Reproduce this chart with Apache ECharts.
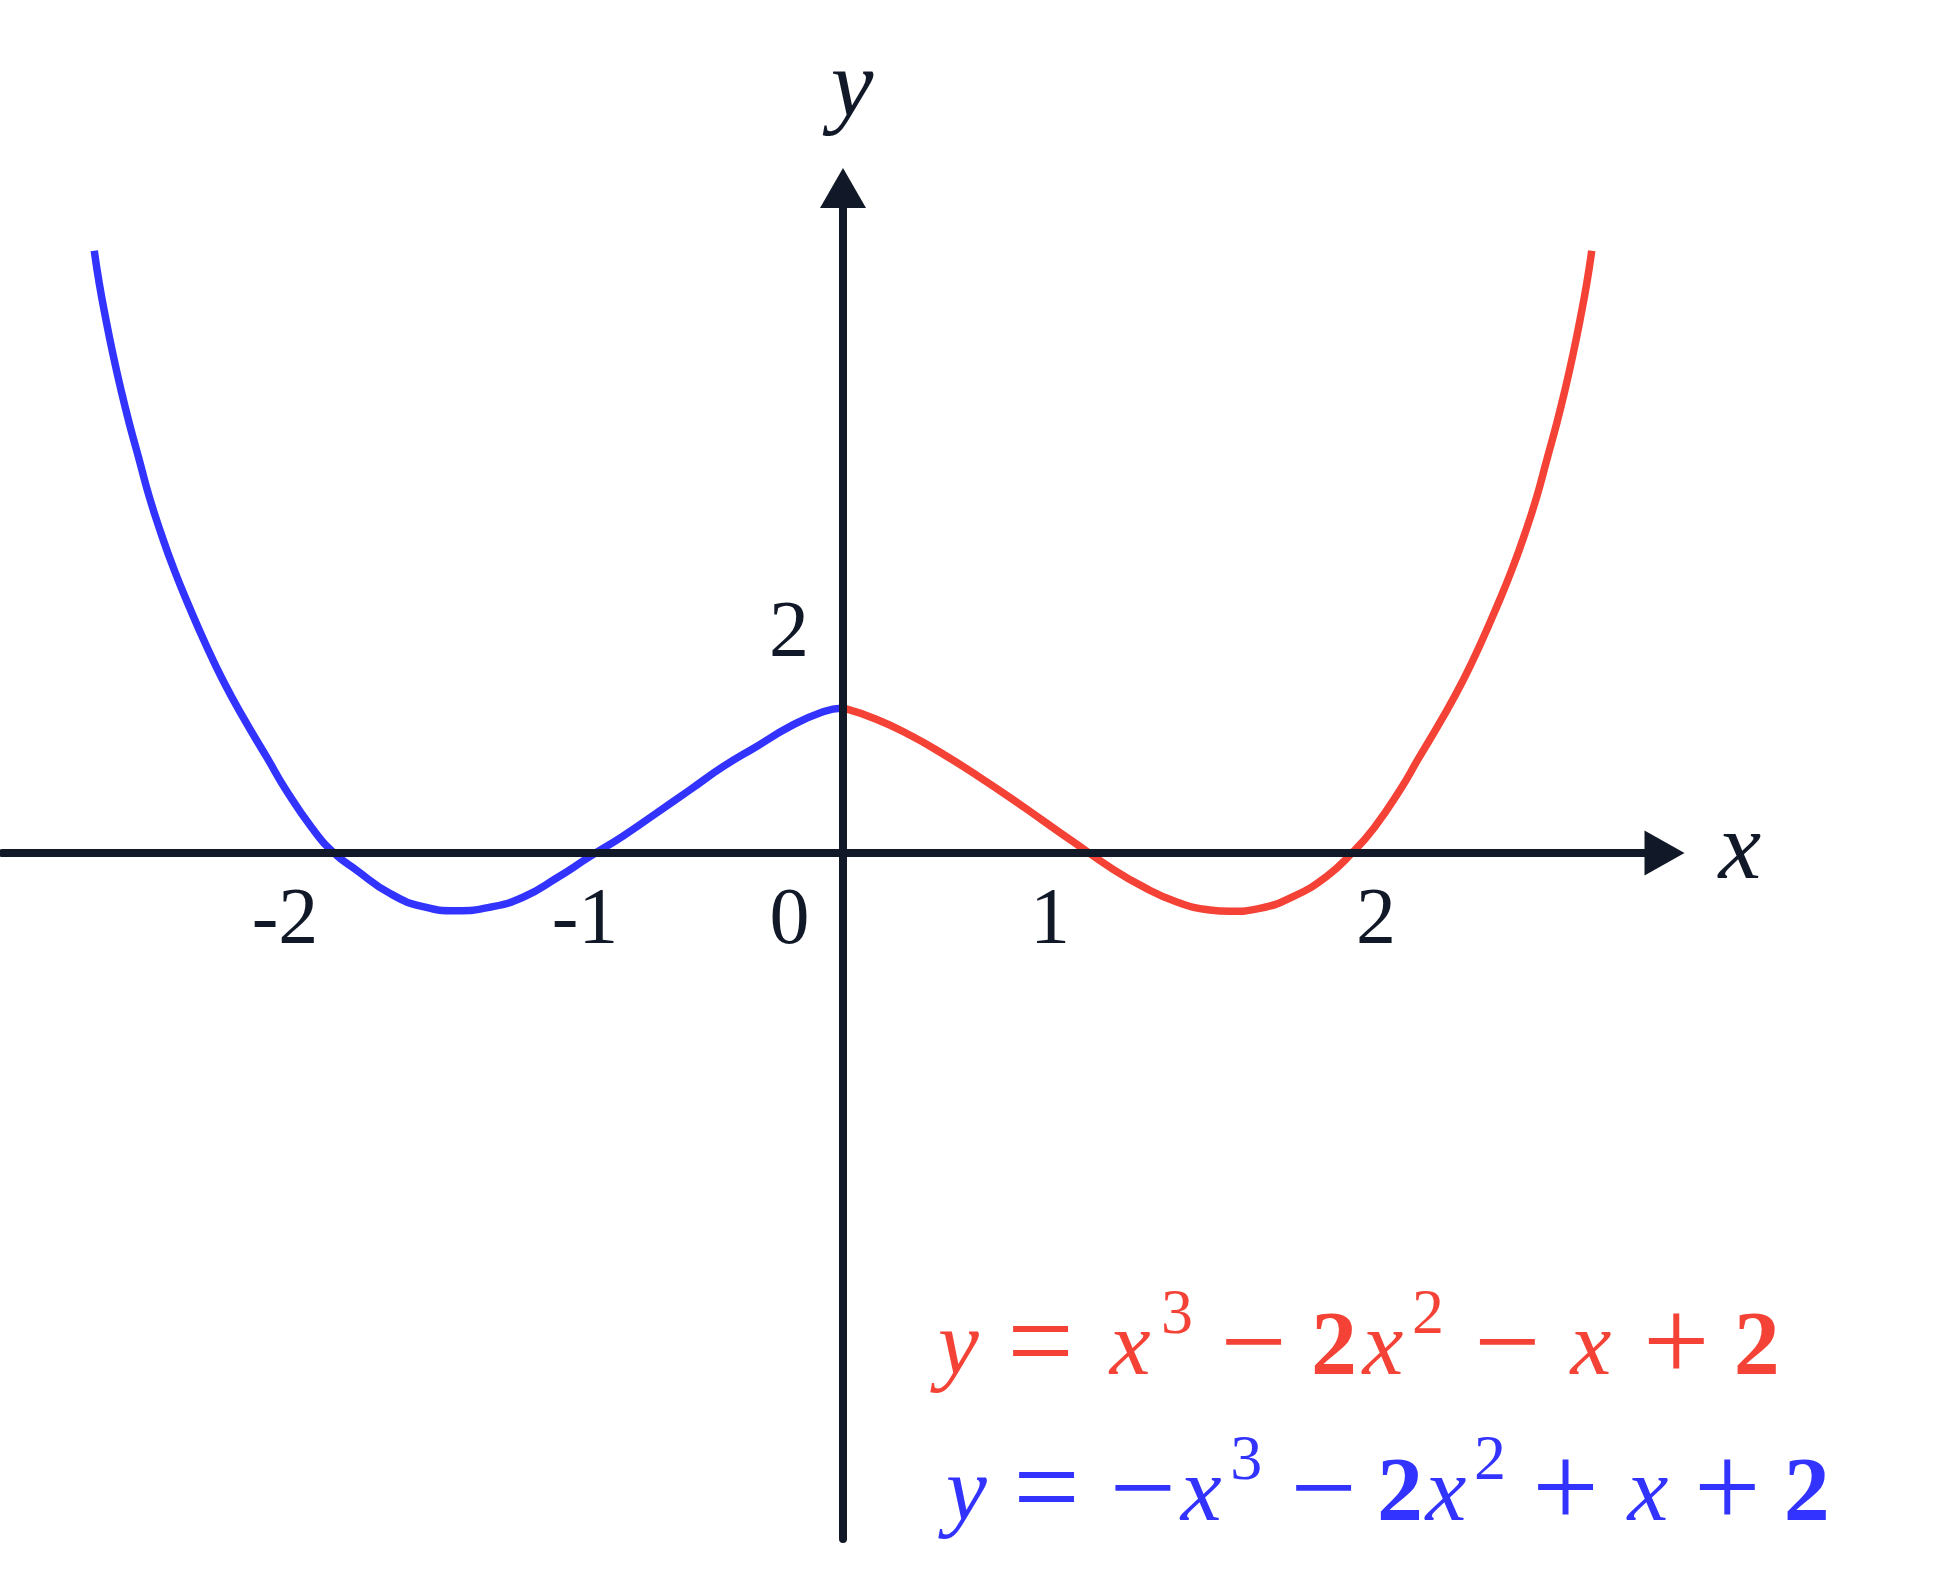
<!DOCTYPE html>
<html>
<head>
<meta charset="utf-8">
<script src="https://cdn.jsdelivr.net/npm/echarts@6/dist/echarts.min.js"></script>
<style>
html,body{margin:0;padding:0;background:#ffffff;}
#chart{width:1940px;height:1572px;}
</style>
</head>
<body>
<div id="chart"></div>
<script>
// ---- data (chart units) ----
const redX = [0, 0.133, 0.267, 0.400, 0.533, 0.667, 0.800, 0.933, 1.067, 1.200, 1.333, 1.467, 1.547, 1.667, 1.800, 1.933, 2.036, 2.124, 2.228, 2.301, 2.401, 2.481, 2.548, 2.615, 2.675, 2.728, 2.775, 2.815, 2.855, 2.888, 2.921, 2.948, 2.975, 2.995];
const redY = [2.000, 1.844, 1.628, 1.366, 1.076, 0.768, 0.446, 0.125, -0.195, -0.465, -0.672, -0.786, -0.804, -0.763, -0.603, -0.327, 0.0, 0.345, 0.869, 1.297, 1.880, 2.386, 2.869, 3.397, 3.903, 4.410, 4.914, 5.421, 5.927, 6.386, 6.892, 7.352, 7.858, 8.308];

const blueX = [-2.995, -2.975, -2.948, -2.921, -2.888, -2.855, -2.815, -2.775, -2.728, -2.675, -2.615, -2.548, -2.481, -2.401, -2.301, -2.228, -2.124, -2.036, -1.947, -1.813, -1.680, -1.547, -1.413, -1.280, -1.147, -1.013, -0.880, -0.747, -0.613, -0.480, -0.347, -0.213, -0.080, 0];
const blueY = [8.308, 7.858, 7.352, 6.892, 6.386, 5.927, 5.421, 4.914, 4.410, 3.903, 3.397, 2.869, 2.386, 1.880, 1.297, 0.869, 0.345, 0.0, -0.234, -0.556, -0.741, -0.796, -0.749, -0.611, -0.349, -0.051, 0.234, 0.548, 0.869, 1.190, 1.466, 1.742, 1.949, 2.000];

const xTickValues = [-2.232, -1.032, -0.214, 0.828, 2.132];
const xTickLabels = ['-2', '-1', '0', '1', '2'];
const yTickValues = [3.01];
const yTickLabels = ['2'];

const xRange = [-3.362, 3.286];
const yRange = [-9.462, 9.172];

const xName = 'x';
const yName = 'y';

// formula tokens: [text, kind, left spacing]
const redFormula = [['y','v',0],['=','op',28.5],['x','v',35.8],['3','sup',10.6],['\u2212','op',27.1],['2','b',24.2],['x','v',5.6],['2','sup',8.6],['\u2212','op',30.1],['x','v',29.8],['+','op',31.7],['2','b',24.2]];
const blueFormula = [['y','v',0],['=','op',26.5],['\u2212','op',29.5],['x','v',4.8],['3','sup',8.6],['\u2212','op',28.1],['2','b',20.2],['x','v',2.6],['2','sup',7.6],['+','op',26.1],['x','v',28.8],['+','op',25.7],['2','b',23.2]];

// ---- styling / layout ----
const RED = '#F44336';
const BLUE = '#3333FF';
const INK = '#111827';
const SERIF = 'Liberation Serif';
const W = 1940, H = 1572;
const GRID = {left: 2.5, right: 275.5, top: 188, bottom: 33};

const kindStyle = {
  v: {fontFamily: SERIF, fontStyle: 'italic', fontWeight: 'normal', fontSize: 92},
  op: {fontFamily: SERIF, fontWeight: 'normal', fontSize: 118},
  b: {fontFamily: SERIF, fontWeight: 'bold', fontSize: 92},
  sup: {fontFamily: SERIF, fontWeight: 'normal', fontSize: 64}
};

function buildRich(tokens, prefix) {
  const rich = {};
  let text = '';
  tokens.forEach(function (t, i) {
    const name = prefix + i;
    const st = Object.assign({}, kindStyle[t[1]]);
    st.padding = t[1] === 'sup' ? [0, 0, 68, t[2]] : [0, 0, 0, t[2]];
    rich[name] = st;
    text += '{' + name + '|' + t[0] + '}';
  });
  return {text: text, rich: rich};
}

const redRich = buildRich(redFormula, 'r');
const blueRich = buildRich(blueFormula, 'b');

function zip(xs, ys) { return xs.map(function (x, i) { return [x, ys[i]]; }); }
function lookup(values, labels) {
  return function (v) {
    for (let i = 0; i < values.length; i++) {
      if (Math.abs(values[i] - v) < 1e-6) return labels[i];
    }
    return '';
  };
}

// place axes through the origin while keeping labels next to the lines
const gridW = W - GRID.left - GRID.right;
const gridH = H - GRID.top - GRID.bottom;
const xAxisOffset = -gridH * (0 - yRange[0]) / (yRange[1] - yRange[0]);
const yAxisOffset = -gridW * (0 - xRange[0]) / (xRange[1] - xRange[0]);

const chart = echarts.init(document.getElementById('chart'), null, {renderer: 'canvas'});
chart.setOption({
  backgroundColor: '#ffffff',
  animation: false,
  title: [
    {left: 938, top: 1284, padding: 0, text: redRich.text, textStyle: {color: RED, fontWeight: 'normal', rich: redRich.rich}},
    {left: 946, top: 1430, padding: 0, text: blueRich.text, textStyle: {color: BLUE, fontWeight: 'normal', rich: blueRich.rich}}
  ],
  grid: {left: GRID.left, right: GRID.right, top: GRID.top, bottom: GRID.bottom, containLabel: false, outerBoundsMode: 'none'},
  xAxis: {
    type: 'value', min: xRange[0], max: xRange[1], z: 5, position: 'bottom', offset: xAxisOffset,
    name: xName, nameLocation: 'end', nameGap: 54,
    nameTextStyle: {fontFamily: SERIF, fontStyle: 'italic', fontSize: 96, color: INK, padding: [0, 0, 20, 0]},
    axisLine: {show: true, onZero: false, symbol: ['none', 'triangle'], symbolSize: [45, 40], lineStyle: {color: INK, width: 8}},
    axisTick: {show: false},
    splitLine: {show: false},
    axisLabel: {customValues: xTickValues, formatter: lookup(xTickValues, xTickLabels), margin: 29, fontFamily: SERIF, fontSize: 80, color: INK}
  },
  yAxis: {
    type: 'value', min: yRange[0], max: yRange[1], z: 5, position: 'left', offset: yAxisOffset,
    name: yName, nameLocation: 'end', nameGap: 49,
    nameTextStyle: {fontFamily: SERIF, fontStyle: 'italic', fontSize: 96, color: INK, padding: [0, 0, 0, 18]},
    axisLine: {show: true, onZero: false, symbol: ['none', 'triangle'], symbolSize: [46, 40], lineStyle: {color: INK, width: 8}},
    axisTick: {show: false},
    splitLine: {show: false},
    axisLabel: {customValues: yTickValues, formatter: lookup(yTickValues, yTickLabels), margin: 34, fontFamily: SERIF, fontSize: 80, color: INK}
  },
  series: [
    {type: 'line', name: 'red', data: zip(redX, redY), showSymbol: false, smooth: 0.5, z: 2, lineStyle: {color: RED, width: 7.5}, itemStyle: {color: RED}},
    {type: 'line', name: 'blue', data: zip(blueX, blueY), showSymbol: false, smooth: 0.5, z: 2, lineStyle: {color: BLUE, width: 7.5}, itemStyle: {color: BLUE}}
  ]
});
</script>
</body>
</html>
